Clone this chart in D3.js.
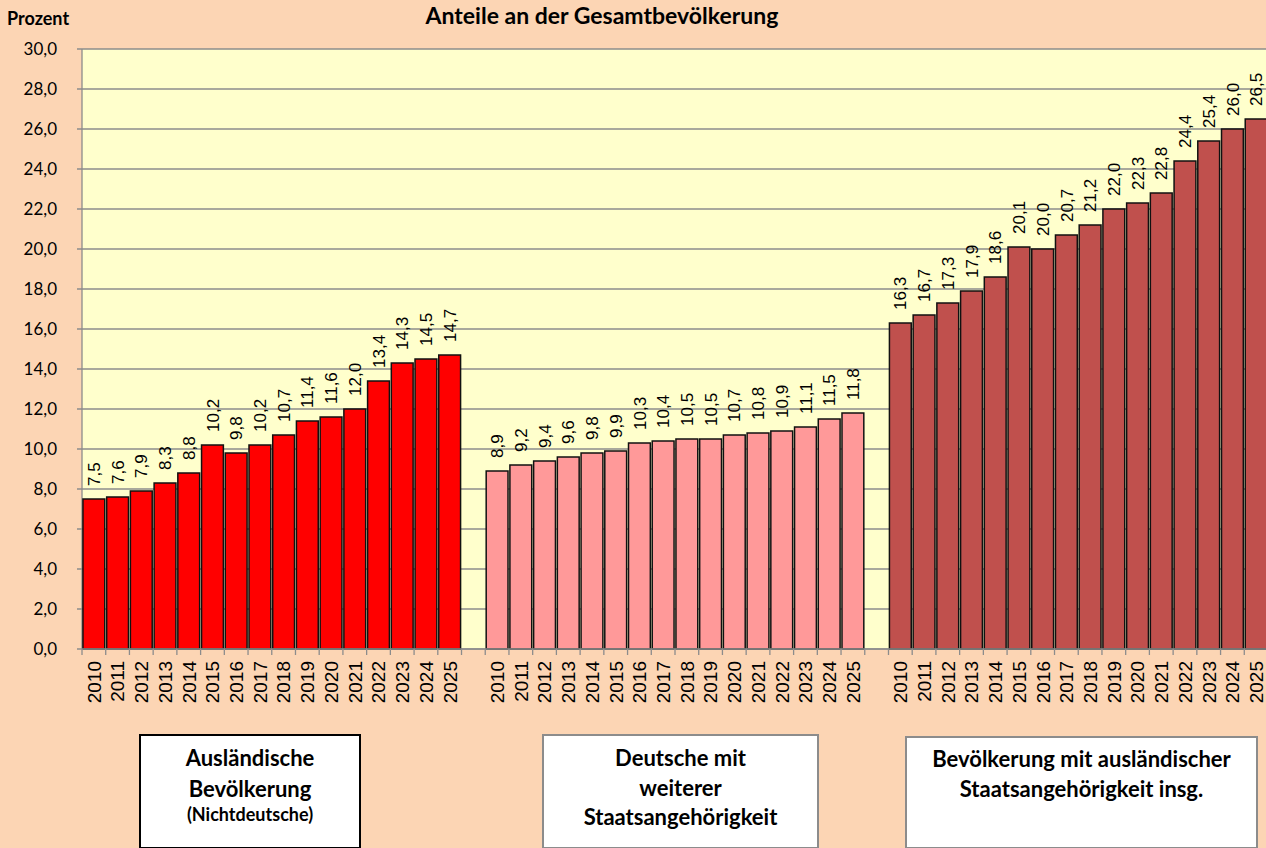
<!DOCTYPE html>
<html>
<head>
<meta charset="utf-8">
<script src="https://cdn.jsdelivr.net/npm/d3@7"></script>
<style>
  html, body { margin: 0; padding: 0; background: #FCD5B4; overflow: hidden; }
  svg { display: block; }
</style>
</head>
<body>
<svg id="chart" width="1266" height="848"></svg>
<script>
// Daten
const years = ["2010","2011","2012","2013","2014","2015","2016","2017","2018","2019","2020","2021","2022","2023","2024","2025"];
const auslaender = [7.5, 7.6, 7.9, 8.3, 8.8, 10.2, 9.8, 10.2, 10.7, 11.4, 11.6, 12.0, 13.4, 14.3, 14.5, 14.7];
const deutscheMit = [8.9, 9.2, 9.4, 9.6, 9.8, 9.9, 10.3, 10.4, 10.5, 10.5, 10.7, 10.8, 10.9, 11.1, 11.5, 11.8];
const insgesamt = [16.3, 16.7, 17.3, 17.9, 18.6, 20.1, 20.0, 20.7, 21.2, 22.0, 22.3, 22.8, 24.4, 25.4, 26.0, 26.5];
const yTicks = [0, 2, 4, 6, 8, 10, 12, 14, 16, 18, 20, 22, 24, 26, 28, 30];
const groupColors = ["#FF0000", "#FF9999", "#C0504D"];
const groupLabels = [
  ["Ausländische", "Bevölkerung", "(Nichtdeutsche)"],
  ["Deutsche mit", "weiterer", "Staatsangehörigkeit"],
  ["Bevölkerung mit ausländischer", "Staatsangehörigkeit insg."]
];

const series = [auslaender, deutscheMit, insgesamt];

// one slot per category, plus an empty slot between the groups
const slots = [];
series.forEach((vals, g) => {
  years.forEach((yr, i) => slots.push({ key: g + "-" + yr, year: yr, value: vals[i], group: g }));
  if (g < series.length - 1) slots.push({ key: "gap" + g, year: "", value: null, group: g });
});

const svg = d3.select("#chart");
const plotLeft = 82, plotRight = 1268, plotTop = 49, plotBottom = 649;
const sans = "Lato, 'Open Sans', sans-serif";
const arial = "'Liberation Sans', Arial, sans-serif";

const x = d3.scaleBand().domain(slots.map(d => d.key)).range([plotLeft, plotRight])
  .paddingInner(0.08).paddingOuter(0.04);
const y = d3.scaleLinear().domain([0, 30]).range([plotBottom, plotTop]);
const step = x.step();
const fmt = v => d3.format(".1f")(v).replace(".", ",");

// Zeichenfläche
svg.append("rect").attr("x", plotLeft).attr("y", plotTop)
  .attr("width", plotRight - plotLeft).attr("height", plotBottom - plotTop).attr("fill", "#FFFFCC");

// Gitterlinien
svg.append("g").selectAll("line").data(yTicks).enter().append("line")
  .attr("x1", plotLeft - 5).attr("x2", plotRight)
  .attr("y1", d => y(d)).attr("y2", d => y(d))
  .attr("stroke", "#8C8C8C").attr("stroke-width", 1.3);

// y-Achse
svg.append("line").attr("x1", plotLeft).attr("x2", plotLeft).attr("y1", plotTop).attr("y2", plotBottom)
  .attr("stroke", "#8C8C8C").attr("stroke-width", 1.3);
svg.append("g").selectAll("text").data(yTicks).enter().append("text")
  .attr("x", 57).attr("y", d => y(d) + 6)
  .attr("text-anchor", "end")
  .attr("font-family", sans).attr("font-size", 17)
  .text(d => fmt(d));

// Balken
svg.append("g").selectAll("rect").data(slots.filter(d => d.value !== null)).enter().append("rect")
  .attr("x", d => x(d.key)).attr("width", x.bandwidth())
  .attr("y", d => y(d.value)).attr("height", d => plotBottom - y(d.value))
  .attr("fill", d => groupColors[d.group])
  .attr("stroke", "#111").attr("stroke-width", 1.5);

// x-Achse: Striche zwischen den Kategorien
const boundaries = slots.map(d => x(d.key) - (step - x.bandwidth()) / 2).concat([plotRight]);
svg.append("g").selectAll("line").data(boundaries).enter().append("line")
  .attr("x1", d => d).attr("x2", d => d).attr("y1", plotBottom).attr("y2", plotBottom + 6)
  .attr("stroke", "#8C8C8C").attr("stroke-width", 1.3);
svg.append("line").attr("x1", plotLeft).attr("x2", plotRight).attr("y1", plotBottom).attr("y2", plotBottom)
  .attr("stroke", "#8C8C8C").attr("stroke-width", 1.3);

// Jahreszahlen
svg.append("g").selectAll("text").data(slots.filter(d => d.year)).enter().append("text")
  .attr("transform", d => `translate(${x(d.key) + x.bandwidth() / 2},${plotBottom + 12}) rotate(-90)`)
  .attr("text-anchor", "end").attr("dy", "0.36em")
  .attr("font-family", arial).attr("font-size", 19)
  .text(d => d.year);

// Datenbeschriftungen
svg.append("g").selectAll("text").data(slots.filter(d => d.value !== null)).enter().append("text")
  .attr("transform", d => `translate(${x(d.key) + x.bandwidth() / 2},${y(d.value) - 13}) rotate(-90)`)
  .attr("text-anchor", "start").attr("dy", "0.36em")
  .attr("font-family", arial).attr("font-size", 17)
  .text(d => fmt(d.value));

// Titel
svg.append("text").attr("x", 602).attr("y", 24).attr("text-anchor", "middle")
  .attr("font-family", sans).attr("font-weight", "bold").attr("font-size", 23)
  .text("Anteile an der Gesamtbevölkerung");
svg.append("text").attr("x", 7).attr("y", 25)
  .attr("font-family", sans).attr("font-weight", "bold").attr("font-size", 18)
  .text("Prozent");

// Beschriftungskästen
const boxes = [
  { x: 140, y: 735, w: 220, h: 113, stroke: "#000", lines: [[766, 22], [797, 22], [821, 18]] },
  { x: 543, y: 735, w: 275, h: 113, stroke: "#8C8C8C", lines: [[766, 22], [796, 22], [825, 22]] },
  { x: 906, y: 737, w: 351, h: 111, stroke: "#8C8C8C", lines: [[767, 22], [797, 22]] }
];
boxes.forEach((b, i) => {
  svg.append("rect").attr("x", b.x).attr("y", b.y).attr("width", b.w).attr("height", b.h)
    .attr("fill", "#fff").attr("stroke", b.stroke).attr("stroke-width", 2);
  groupLabels[i].forEach((t, j) => {
    svg.append("text").attr("x", b.x + b.w / 2).attr("y", b.lines[j][0])
      .attr("text-anchor", "middle")
      .attr("font-family", sans).attr("font-weight", "bold")
      .attr("font-size", b.lines[j][1])
      .text(t);
  });
});
</script>
</body>
</html>
